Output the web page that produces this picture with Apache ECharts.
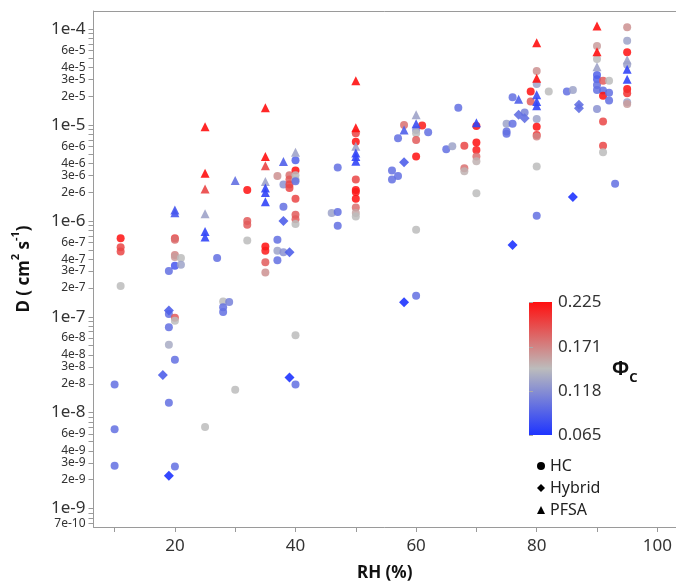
<!DOCTYPE html>
<html><head><meta charset="utf-8">
<script src="https://cdn.jsdelivr.net/npm/echarts@6/dist/echarts.min.js"></script>
<style>html,body{margin:0;padding:0;background:#fff}#c{width:676px;height:582px}</style>
</head><body><div id="c"></div>
<script>
// ---- data: [RH (%), D (cm2/s), phi_c] ----
const HC = [
[10,1.97e-8,0.10],[10,6.7e-9,0.10],[10,2.8e-9,0.10],
[11,6.6e-7,0.225],[11,5.3e-7,0.20],[11,4.8e-7,0.20],[11,2.1e-7,0.145],
[19,3.0e-7,0.10],[19,1.07e-7,0.10],[19,7.8e-8,0.10],[19,5.1e-8,0.135],[19,1.27e-8,0.10],
[20,6.6e-7,0.20],[20,6.35e-7,0.18],[20,4.4e-7,0.17],[20,4.2e-7,0.16],[20,3.4e-7,0.085],
[20,9.8e-8,0.19],[20,9.1e-8,0.145],[20,3.56e-8,0.10],[20,2.75e-9,0.10],
[21,4.1e-7,0.145],[21,3.5e-7,0.13],
[25,7.1e-9,0.145],[27,4.1e-7,0.10],
[28,1.44e-7,0.145],[28,1.26e-7,0.10],[28,1.12e-7,0.10],[29,1.43e-7,0.11],[30,1.73e-8,0.145],
[32,2.1e-6,0.225],[32,1.0e-6,0.19],[32,9.1e-7,0.19],[32,6.25e-7,0.145],
[35,5.4e-7,0.225],[35,4.9e-7,0.22],[35,3.7e-7,0.19],[35,2.9e-7,0.165],
[37,2.95e-6,0.165],[37,6.35e-7,0.10],[37,4.9e-7,0.13],[37,3.9e-7,0.10],
[38,2.4e-6,0.12],[38,1.41e-6,0.10],[38,4.7e-7,0.12],
[39,3.0e-6,0.18],[39,2.7e-6,0.19],[39,2.4e-6,0.20],[39,2.2e-6,0.20],
[40,4.3e-6,0.09],[40,3.36e-6,0.225],[40,3.0e-6,0.145],[40,2.7e-6,0.145],[40,2.6e-6,0.10],
[40,1.7e-6,0.20],[40,1.16e-6,0.19],[40,1.04e-6,0.19],[40,9.3e-7,0.145],[40,6.4e-8,0.145],[40,1.97e-8,0.10],
[46,1.21e-6,0.13],[47,3.6e-6,0.10],[47,1.24e-6,0.10],[47,8.9e-7,0.10],
[50,8.2e-6,0.20],[50,6.7e-6,0.225],[50,2.7e-6,0.20],[50,2.1e-6,0.225],[50,2.0e-6,0.22],
[50,1.7e-6,0.225],[50,1.38e-6,0.18],[50,1.21e-6,0.155],[50,1.11e-6,0.145],
[56,3.36e-6,0.10],[56,2.7e-6,0.10],[57,7.3e-6,0.10],[57,2.95e-6,0.10],[58,1.0e-5,0.18],
[60,8.9e-6,0.12],[60,8.2e-6,0.145],[60,7.0e-6,0.19],[60,4.7e-6,0.225],[60,8.1e-7,0.145],[60,1.66e-7,0.10],
[61,9.9e-6,0.22],[62,8.4e-6,0.10],[65,5.6e-6,0.10],[66,6.0e-6,0.13],[67,1.52e-5,0.10],
[68,6.1e-6,0.20],[68,3.55e-6,0.18],[68,3.3e-6,0.15],
[70,9.8e-6,0.225],[70,6.6e-6,0.225],[70,5.5e-6,0.22],[70,4.7e-6,0.18],[70,4.2e-6,0.15],[70,1.95e-6,0.145],
[75,1.03e-5,0.13],[75,8.55e-6,0.10],[75,8.1e-6,0.10],[76,1.95e-5,0.10],[76,1.03e-5,0.10],[78,1.35e-5,0.11],
[79,2.24e-5,0.225],[79,1.76e-5,0.19],
[80,3.67e-5,0.165],[80,2.69e-5,0.13],[80,1.16e-5,0.13],[80,9.6e-6,0.225],[80,7.9e-6,0.21],
[80,7.6e-6,0.17],[80,3.7e-6,0.145],[80,1.13e-6,0.10],
[82,2.24e-5,0.145],[85,2.24e-5,0.10],[86,2.33e-5,0.13],
[90,6.7e-5,0.16],[90,4.9e-5,0.145],[90,3.34e-5,0.09],[90,3.0e-5,0.09],[90,2.62e-5,0.10],[90,2.33e-5,0.10],[90,1.47e-5,0.12],
[91,2.9e-5,0.19],[91,2.29e-5,0.10],[91,2.02e-5,0.225],[91,1.09e-5,0.20],[91,6.1e-6,0.20],[91,5.2e-6,0.145],
[92,2.9e-5,0.145],[92,2.18e-5,0.10],[92,1.8e-5,0.10],[93,2.44e-6,0.10],
[95,1.05e-4,0.165],[95,7.6e-5,0.13],[95,5.75e-5,0.225],[95,4.25e-5,0.13],[95,2.38e-5,0.225],
[95,2.15e-5,0.21],[95,1.73e-5,0.13],[95,1.66e-5,0.16]
];
const HYBRID = [
[18,2.47e-8,0.09],[19,1.16e-7,0.09],[19,2.2e-9,0.065],
[38,1.0e-6,0.09],[39,4.7e-7,0.09],[39,2.33e-8,0.065],
[58,4.1e-6,0.09],[58,1.42e-7,0.065],[76,5.6e-7,0.065],
[77,1.28e-5,0.10],[78,1.18e-5,0.10],[86,1.78e-6,0.065],[87,1.63e-5,0.10],[87,1.5e-5,0.10]
];
const PFSA = [
[20,1.3e-6,0.085],[20,1.22e-6,0.085],
[25,9.6e-6,0.225],[25,3.15e-6,0.225],[25,2.15e-6,0.20],[25,1.19e-6,0.13],[25,7.75e-7,0.075],[25,6.8e-7,0.075],
[30,2.64e-6,0.10],
[35,1.52e-5,0.225],[35,4.7e-6,0.225],[35,3.76e-6,0.20],[35,2.58e-6,0.13],[35,2.2e-6,0.075],[35,1.98e-6,0.075],[35,1.59e-6,0.075],
[38,4.16e-6,0.09],[40,5.2e-6,0.13],
[50,2.9e-5,0.225],[50,9.4e-6,0.225],[50,6.0e-6,0.13],[50,5.1e-6,0.075],[50,4.7e-6,0.075],[50,4.2e-6,0.075],
[58,8.9e-6,0.09],[60,1.28e-5,0.13],[60,1.03e-5,0.08],[70,1.06e-5,0.075],[77,1.86e-5,0.09],
[80,7.25e-5,0.225],[80,3.08e-5,0.225],[80,2.07e-5,0.08],[80,1.76e-5,0.075],[80,1.59e-5,0.075],
[90,1.08e-4,0.225],[90,5.84e-5,0.225],[90,4.07e-5,0.13],
[95,4.8e-5,0.13],[95,3.83e-5,0.075],[95,3.0e-5,0.075]
];
// ---- axes / ticks ----
const RH_MIN = 6.5, RH_MAX = 103.1;
const RH_TICKS = [10,20,30,40,50,60,70,80,90,100];
const RH_LABELS = [20,40,60,80,100];
const D_MIN = 6.41e-10, D_MAX = 1.55e-4;
const D_LABELS = [7e-10,1e-9,2e-9,3e-9,4e-9,6e-9,1e-8,2e-8,3e-8,4e-8,6e-8,1e-7,2e-7,3e-7,4e-7,6e-7,
  1e-6,2e-6,3e-6,4e-6,6e-6,1e-5,2e-5,3e-5,4e-5,6e-5,1e-4];
const D_TICKS = [7e-10,8e-10,9e-10,1e-9,2e-9,3e-9,4e-9,5e-9,6e-9,7e-9,8e-9,9e-9,1e-8,2e-8,3e-8,4e-8,5e-8,6e-8,7e-8,8e-8,9e-8,
  1e-7,2e-7,3e-7,4e-7,5e-7,6e-7,7e-7,8e-7,9e-7,1e-6,2e-6,3e-6,4e-6,5e-6,6e-6,7e-6,8e-6,9e-6,
  1e-5,2e-5,3e-5,4e-5,5e-5,6e-5,7e-5,8e-5,9e-5,1e-4];
const PHI_MIN = 0.065, PHI_MAX = 0.225;
const PHI_TICKS = [0.065,0.118,0.171,0.225];
const CMAP = ['#1e34ff','#bcbcbc','#ff0f0f'];

const FONT = 'Noto Sans';
const chart = echarts.init(document.getElementById('c'), null, {renderer:'canvas'});
function dLabel(v){
  const e = Math.floor(v + 1e-9);
  const m = Math.round(Math.pow(10, v - e));
  return m === 1 ? '{big|1e' + e + '}' : '{small|' + m + 'e' + e + '}';
}
const axisGray = '#9a9a9a';
const option = {
  backgroundColor:'#fff',
  animation:false,
  textStyle:{fontFamily:FONT},
  grid:[
    {left:93.5, right:0, top:11, bottom:55, outerBoundsMode:'none', containLabel:false},
    {left:529, top:302, width:23, height:133, show:true, borderWidth:0, outerBoundsMode:'none', containLabel:false,
     backgroundColor:{type:'linear',x:0,y:1,x2:0,y2:0,colorStops:[
       {offset:0,color:CMAP[0]},{offset:0.5,color:CMAP[1]},{offset:1,color:CMAP[2]}]}}
  ],
  xAxis:[
    {type:'value', gridIndex:0, position:'bottom', min:RH_MIN, max:RH_MAX, name:'RH (%)', nameLocation:'middle', nameGap:38,
     nameTextStyle:{fontSize:17, fontWeight:'bold', color:'#111', fontFamily:FONT},
     axisLine:{show:true, onZero:false, lineStyle:{color:axisGray}},
     axisTick:{show:true, length:5, customValues:RH_TICKS, lineStyle:{color:axisGray}},
     axisLabel:{customValues:RH_LABELS, fontSize:17, color:'#333', margin:11, fontFamily:FONT},
     splitLine:{show:false}},
    {type:'value', gridIndex:0, position:'top', min:RH_MIN, max:RH_MAX,
     axisLine:{show:true, onZero:false, lineStyle:{color:axisGray}},
     axisTick:{show:false}, axisLabel:{show:false}, splitLine:{show:false}},
    {type:'value', gridIndex:1, show:false, min:0, max:1}
  ],
  yAxis:[
    {type:'log', gridIndex:0, position:'left', min:D_MIN, max:D_MAX, show:false, splitLine:{show:false}},
    {type:'value', gridIndex:0, position:'left', offset:0, min:Math.log10(D_MIN), max:Math.log10(D_MAX),
     name:'{a|D ( cm}{s|2}{a| s}{s|-1}{a|)}', nameLocation:'middle', nameGap:61,
     nameTextStyle:{rich:{
       a:{fontSize:17, fontWeight:'bold', color:'#111', lineHeight:22, verticalAlign:'bottom', fontFamily:FONT},
       s:{fontSize:11, fontWeight:'bold', color:'#111', lineHeight:22, verticalAlign:'top', fontFamily:FONT}}},
     axisLine:{show:true, onZero:false, lineStyle:{color:axisGray}},
     axisTick:{show:true, length:5, customValues:D_TICKS.map(Math.log10), lineStyle:{color:axisGray}},
     axisLabel:{customValues:D_LABELS.map(Math.log10), formatter:dLabel, margin:8,
       rich:{big:{fontSize:17, color:'#333', fontFamily:FONT}, small:{fontSize:12, color:'#333', fontFamily:FONT}}},
     splitLine:{show:false}},
    {type:'value', gridIndex:1, position:'right', min:PHI_MIN, max:PHI_MAX,
     name:'{p|Φ}{c|C}', nameLocation:'middle', nameRotate:0, nameGap:60,
     nameTextStyle:{padding:[8,0,0,0], rich:{
       p:{fontSize:19, fontWeight:'bold', color:'#111', lineHeight:24, verticalAlign:'top', fontFamily:FONT},
       c:{fontSize:13, fontWeight:'bold', color:'#111', lineHeight:24, verticalAlign:'bottom', fontFamily:FONT}}},
     axisLine:{show:false},
     axisTick:{show:true, length:4, customValues:PHI_TICKS, lineStyle:{color:'#aaa'}},
     axisLabel:{customValues:PHI_TICKS, formatter:v => v.toFixed(3), fontSize:17, color:'#333', margin:6, fontFamily:FONT},
     splitLine:{show:false}}
  ],
  visualMap:{type:'continuous', show:false, min:PHI_MIN, max:PHI_MAX, dimension:2, seriesIndex:[0,1,2],
    inRange:{color:CMAP}},
  legend:{orient:'vertical', left:532, top:453, itemWidth:8, itemHeight:8, itemGap:6, selectedMode:false,
    textStyle:{fontSize:16, color:'#222', lineHeight:16, fontFamily:FONT},
    data:[{name:'HC', icon:'circle', itemStyle:{color:'#000', opacity:1}},
          {name:'Hybrid', icon:'diamond', itemStyle:{color:'#000', opacity:1}},
          {name:'PFSA', icon:'triangle', itemStyle:{color:'#000', opacity:1}}]},
  series:[
    {name:'HC', type:'scatter', xAxisIndex:0, yAxisIndex:0, symbol:'circle', symbolSize:8, data:HC,
     itemStyle:{color:'#000', opacity:0.85}},
    {name:'Hybrid', type:'scatter', xAxisIndex:0, yAxisIndex:0, symbol:'diamond', symbolSize:10, data:HYBRID,
     itemStyle:{color:'#000', opacity:0.9}},
    {name:'PFSA', type:'scatter', xAxisIndex:0, yAxisIndex:0, symbol:'triangle', symbolSize:9, data:PFSA,
     itemStyle:{color:'#000', opacity:0.9}}
  ]
};
chart.setOption(option);
</script></body></html>
